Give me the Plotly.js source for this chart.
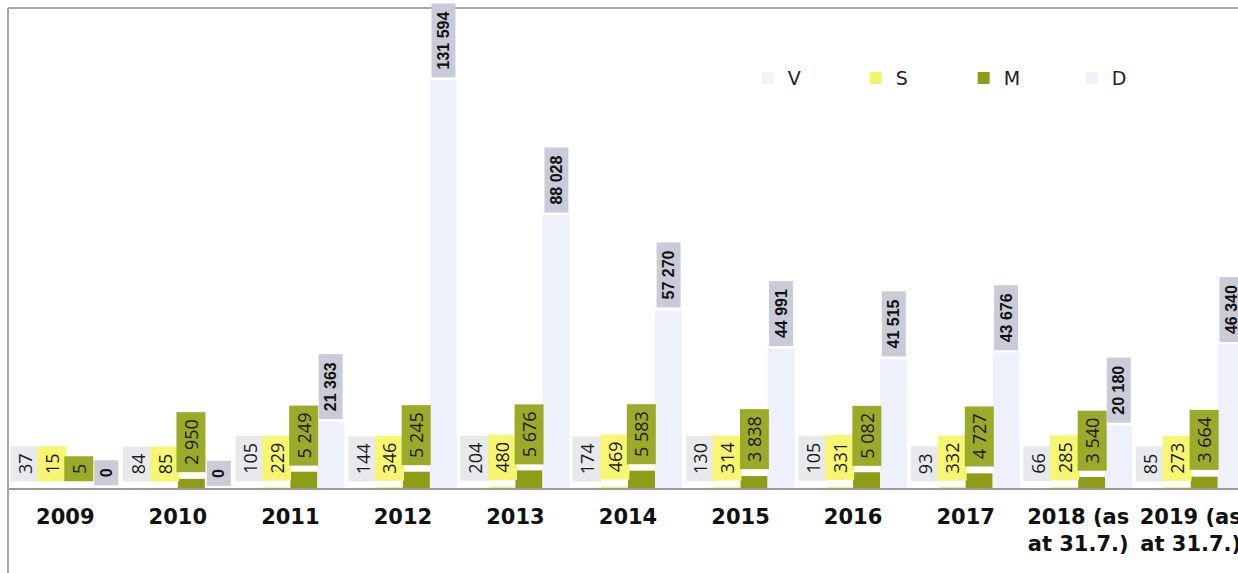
<!DOCTYPE html>
<html>
<head>
<meta charset="utf-8">
<script src="https://cdn.plot.ly/plotly-3.0.1.min.js"></script>
<style>
  html, body { margin: 0; padding: 0; background: #ffffff; }
  #chart { width: 1238px; height: 573px; }
</style>
</head>
<body>
<div id="chart"></div>
<script>
// ---- data ----
const categories = ['2009', '2010', '2011', '2012', '2013', '2014', '2015', '2016', '2017',
  '2018 (as<br>at 31.7.)', '2019 (as<br>at 31.7.)'];
const seriesNames = ['V', 'S', 'M', 'D'];
const valuesV = [37, 84, 105, 144, 204, 174, 130, 105, 93, 66, 85];
const valuesS = [15, 85, 229, 346, 480, 469, 314, 331, 332, 285, 273];
const valuesM = [5, 2950, 5249, 5245, 5676, 5583, 3838, 5082, 4727, 3540, 3664];
const valuesD = [0, 0, 21363, 131594, 88028, 57270, 44991, 41515, 43676, 20180, 46340];

// ---- styles ----
const barColors = ['#f2f3f7', '#f4f46a', '#8e9d16', '#eef0fb'];
const boxColors = ['#e8e9ec', '#f6f672', '#9caa2a', '#c9cbd8'];
const labelFonts = [
  {family: 'Open Sans', size: 18, color: '#1a1a1a'},
  {family: 'Open Sans', size: 18, color: '#1a1a1a'},
  {family: 'Open Sans', size: 18, color: '#1a1a1a'},
  {family: 'Liberation Sans', size: 16, color: '#111111', weight: 'bold'}
];
const labelPads = [2, 2, 2, 3];
const labelShifts = [6, 6, 6, 2];
const bargap = 0.04;
const NB = '\u00a0';

function fmt(v) {
  return NB + String(v).replace(/\B(?=(\d{3})+(?!\d))/g, ' ') + NB;
}

const allValues = [valuesV, valuesS, valuesM, valuesD];
const traces = allValues.map((vals, i) => ({
  type: 'bar',
  name: seriesNames[i],
  x: categories,
  y: vals,
  marker: {color: barColors[i]},
  hoverinfo: 'skip'
}));

const nSeries = allValues.length;
const slot = (1 - bargap) / nSeries;
const annotations = [];
allValues.forEach((vals, i) => {
  const off = -((1 - bargap) / 2) + slot * (i + 0.5);
  vals.forEach((v, j) => {
    annotations.push({
      x: j + off, y: v, xref: 'x', yref: 'y',
      text: fmt(v),
      showarrow: false,
      textangle: -90,
      xanchor: 'center', yanchor: 'bottom',
      yshift: labelShifts[i],
      bgcolor: boxColors[i],
      borderpad: labelPads[i],
      font: labelFonts[i]
    });
  });
});

const layout = {
  width: 1238, height: 573,
  margin: {l: 9, r: 0, t: 8, b: 85},
  paper_bgcolor: '#ffffff',
  plot_bgcolor: '#ffffff',
  barmode: 'group',
  bargap: bargap,
  bargroupgap: 0,
  showlegend: true,
  legend: {
    orientation: 'h',
    x: 0.601, xanchor: 'left',
    y: 0.854, yanchor: 'middle',
    font: {family: 'DejaVu Sans', size: 19, color: '#222222'},
    entrywidth: 63, entrywidthmode: 'pixels',
    bgcolor: 'rgba(0,0,0,0)',
    traceorder: 'normal'
  },
  xaxis: {
    type: 'category',
    range: [-0.5, 10.42],
    showline: true, linecolor: '#9a9a9a', linewidth: 1.5,
    ticks: '', showgrid: false, zeroline: false,
    ticklabelstandoff: 9,
    tickfont: {family: 'DejaVu Sans', size: 21, color: '#111111', weight: 'bold'},
    automargin: false
  },
  yaxis: {
    range: [0, 154800],
    showticklabels: false, showgrid: false, zeroline: false, ticks: '',
    showline: false, automargin: false
  },
  shapes: [
    {type: 'line', xref: 'paper', yref: 'paper', x0: -0.0008, x1: -0.0008, y0: 1, y1: -0.2,
     line: {color: '#a8a8a8', width: 2}},
    {type: 'line', xref: 'paper', yref: 'paper', x0: -0.0008, x1: 1.02, y0: 1, y1: 1,
     line: {color: '#a8a8a8', width: 2}}
  ],
  annotations: annotations,
  hovermode: false
};

Plotly.newPlot('chart', traces, layout, {displayModeBar: false, staticPlot: true});
</script>
</body>
</html>
